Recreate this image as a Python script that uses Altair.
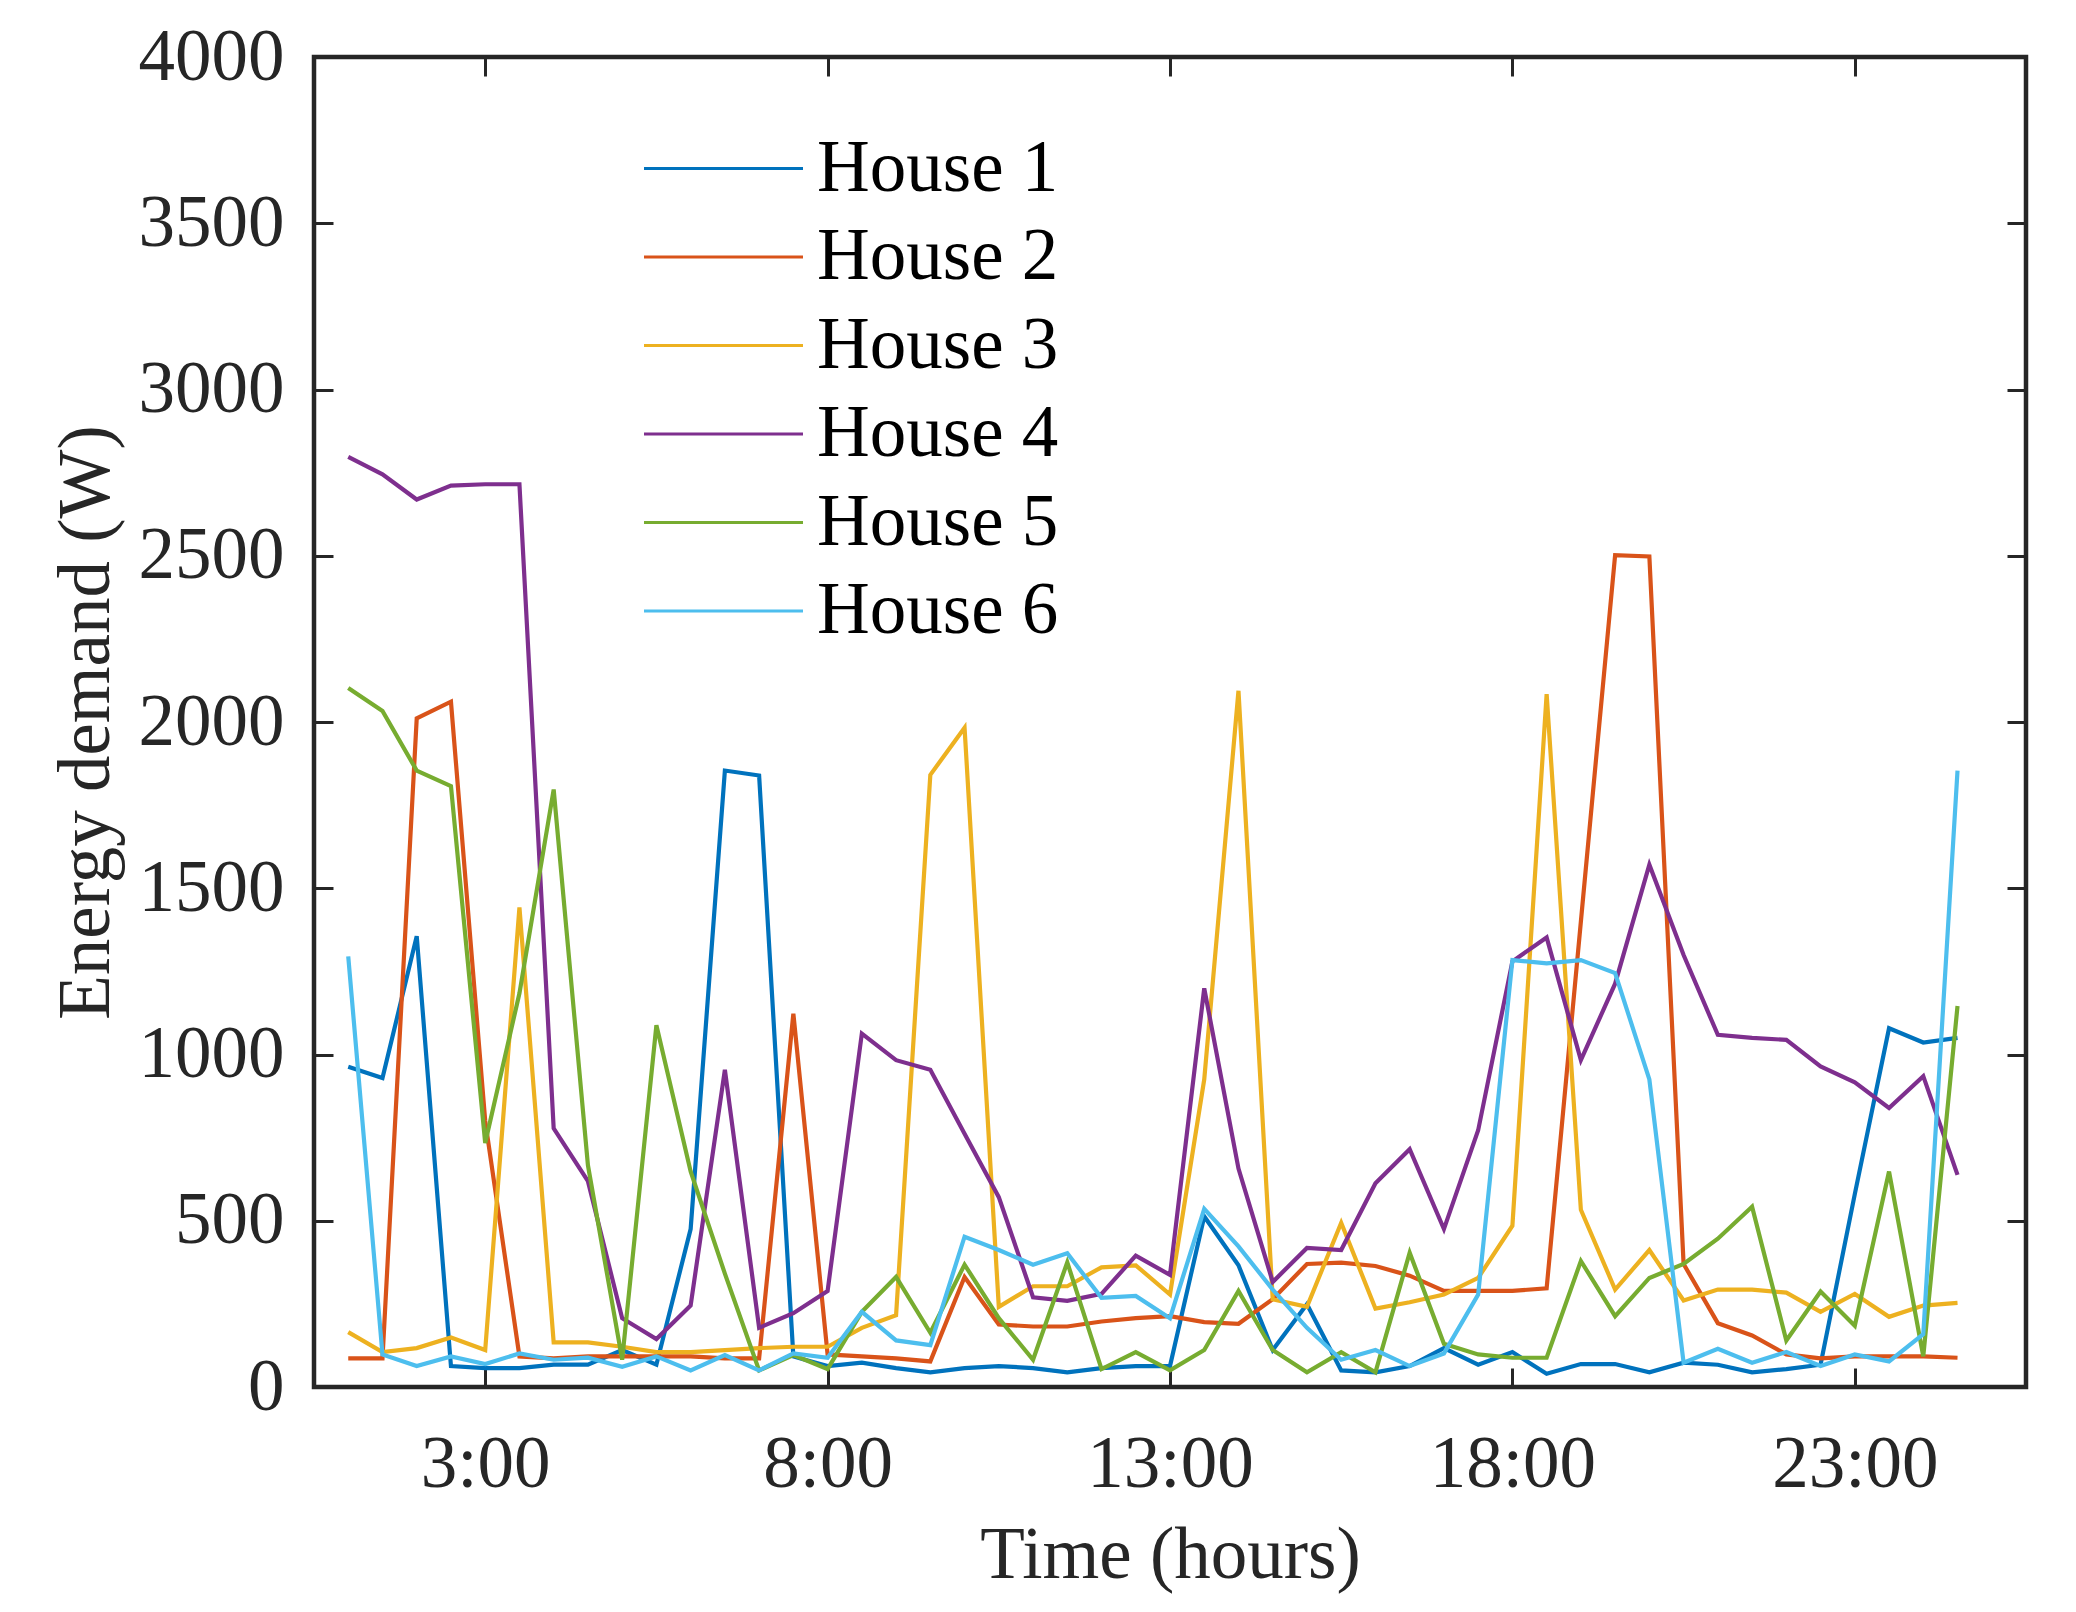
import altair as alt
import pandas as pd

hours = [1 + 0.5 * i for i in range(48)]

house1 = [963, 929, 1356, 63, 57, 57, 67, 67, 111, 67, 475, 1854, 1839, 92, 63, 73,
          57, 44, 57, 63, 57, 44, 57, 63, 63, 513, 366, 111, 249, 50, 44, 63,
          117, 67, 105, 40, 69, 69, 44, 73, 67, 44, 54, 67, 580, 1079, 1036, 1050]
house2 = [86, 86, 2011, 2061, 800, 92, 86, 92, 92, 92, 92, 86, 86, 1123, 98, 92,
          86, 77, 331, 188, 182, 182, 197, 207, 213, 195, 190, 264, 370, 374, 364, 335,
          289, 289, 289, 297, 1400, 2502, 2498, 370, 192, 155, 98, 86, 92, 92, 92, 88]
house3 = [165, 105, 117, 149, 111, 1442, 134, 134, 121, 105, 105, 111, 117, 121, 121, 178,
          216, 1841, 1983, 241, 303, 303, 360, 366, 278, 925, 2094, 264, 241, 494, 236, 255,
          278, 328, 485, 2084, 533, 293, 412, 260, 293, 293, 284, 226, 280, 211, 245, 253]
house4 = [2797, 2745, 2669, 2711, 2715, 2715, 778, 619, 207, 144, 245, 954, 178, 222, 289, 1063,
          983, 954, 762, 571, 270, 259, 280, 395, 337, 1199, 657, 316, 418, 412, 613, 715,
          475, 772, 1280, 1352, 983, 1213, 1571, 1299, 1059, 1050, 1044, 964, 916, 839, 935, 638]
house5 = [2102, 2033, 1854, 1807, 734, 1184, 1797, 667, 82, 1088, 648, 341, 50, 96, 54, 226,
          331, 163, 368, 207, 82, 375, 54, 105, 50, 111, 289, 111, 44, 105, 44, 404,
          130, 98, 88, 88, 379, 213, 328, 370, 446, 542, 140, 287, 184, 648, 92, 1146]
house6 = [1295, 98, 63, 92, 69, 101, 82, 88, 61, 92, 50, 96, 50, 101, 88, 226,
          140, 126, 452, 412, 368, 402, 268, 274, 207, 536, 423, 293, 178, 82, 111, 63,
          101, 278, 1284, 1274, 1284, 1245, 925, 73, 115, 73, 105, 63, 98, 77, 159, 1854]

names = ["House 1", "House 2", "House 3", "House 4", "House 5", "House 6"]
colors = ["#0072BD", "#D95319", "#EDB120", "#7E2F8E", "#77AC30", "#4DBEEE"]
x_ticks = [3, 8, 13, 18, 23]
y_ticks = [0, 500, 1000, 1500, 2000, 2500, 3000, 3500, 4000]

series = [house1, house2, house3, house4, house5, house6]
rows = []
for name, vals in zip(names, series):
    for h, v in zip(hours, vals):
        rows.append({"hour": h, "demand": v, "house": name})
df = pd.DataFrame(rows)

FONT = "Liberation Serif"
FS = 73
AX = "#262626"

xscale = alt.Scale(domain=[0.5, 25.5], nice=False, zero=False)
yscale = alt.Scale(domain=[0, 4000], nice=False)

common_axis = dict(tickSize=19, offset=-19, domain=False, grid=False,
                   tickColor=AX, tickWidth=3, labelFont=FONT, labelFontSize=FS,
                   labelColor=AX, titleFont=FONT, titleFontSize=FS,
                   titleFontWeight="normal", titleColor=AX)

lines = alt.Chart(df).mark_line(strokeWidth=4.2).encode(
    x=alt.X("hour:Q", scale=xscale,
            axis=alt.Axis(orient="bottom", values=x_ticks,
                          labelExpr="datum.value + ':00'", labelPadding=41,
                          title="Time (hours)", titleBaseline="alphabetic",
                          titleY=209, titleX=856, **common_axis)),
    y=alt.Y("demand:Q", scale=yscale,
            axis=alt.Axis(orient="left", values=y_ticks, format="d", labelPadding=30,
                          title="Energy demand (W)", titleBaseline="alphabetic",
                          titleAngle=270, titleX=-225, titleY=665, **common_axis)),
    color=alt.Color("house:N",
                    scale=alt.Scale(domain=names, range=colors),
                    legend=alt.Legend(orient="none", legendX=368, legendY=70,
                                      title=None, symbolType="M-2,0H2",
                                      symbolSize=6320, symbolStrokeWidth=3,
                                      labelOffset=52, labelFont=FONT,
                                      labelFontSize=FS, labelColor="#000000",
                                      labelLimit=1000, rowPadding=9.5, padding=0)),
)

frame = alt.Chart(df).mark_line(strokeOpacity=0).encode(
    x=alt.X("hour:Q", scale=xscale,
            axis=alt.Axis(orient="top", values=x_ticks, labels=False, title=None,
                          **common_axis)),
    y=alt.Y("demand:Q", scale=yscale,
            axis=alt.Axis(orient="right", values=y_ticks, labels=False, title=None,
                          **common_axis)),
    detail="house:N",
)

chart = alt.layer(lines, frame).resolve_axis(x="independent", y="independent").properties(
    width=1712, height=1330,
    autosize=alt.AutoSizeParams(type="none"),
    padding={"left": 306, "top": 49, "right": 42, "bottom": 214},
    background="white",
).configure_view(stroke=AX, strokeWidth=4.5)

chart.save("out.html", embed_options={"renderer": "svg", "actions": False})
